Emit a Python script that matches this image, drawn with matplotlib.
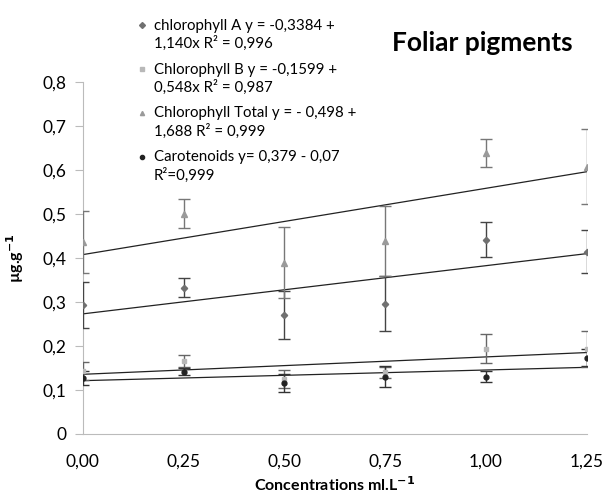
import numpy as np
import matplotlib.pyplot as plt
from matplotlib.lines import Line2D
from matplotlib.legend_handler import HandlerLine2D

plt.rcParams["font.family"] = ["Lato", "DejaVu Sans"]

conc = [0.00, 0.25, 0.50, 0.75, 1.00, 1.25]

chl_a = [0.293, 0.332, 0.270, 0.296, 0.441, 0.414]
chl_a_err = [0.053, 0.021, 0.054, 0.063, 0.040, 0.048]

chl_b = [0.143, 0.166, 0.125, 0.140, 0.193, 0.193]
chl_b_err = [0.021, 0.014, 0.020, 0.012, 0.033, 0.040]

chl_total = [0.436, 0.500, 0.389, 0.438, 0.638, 0.607]
chl_total_err = [0.071, 0.033, 0.080, 0.080, 0.031, 0.086]

carot = [0.127, 0.141, 0.115, 0.130, 0.130, 0.173]
carot_err = [0.015, 0.008, 0.020, 0.024, 0.013, 0.019]

labels = [
    "chlorophyll A y = -0,3384 +\n1,140x R\u00b2 = 0,996",
    "Chlorophyll B y = -0,1599 +\n0,548x R\u00b2 = 0,987",
    "Chlorophyll Total y = - 0,498 +\n1,688 R\u00b2 = 0,999",
    "Carotenoids y= 0,379 - 0,07\nR\u00b2=0,999",
]

series = [
    (chl_a, chl_a_err, "D", "#707070", "#444444", 3.2),
    (chl_b, chl_b_err, "s", "#b8b8b8", "#666666", 3.5),
    (chl_total, chl_total_err, "^", "#9a9a9a", "#777777", 4.5),
    (carot, carot_err, "o", "#222222", "#333333", 3.5),
]


class HandlerFirstLine(HandlerLine2D):
    # put the legend marker level with the first line of a two-line label
    def create_artists(self, legend, orig_handle, xdescent, ydescent,
                       width, height, fontsize, trans):
        arts = super().create_artists(legend, orig_handle, xdescent, ydescent,
                                      width, height, fontsize, trans)
        for a in arts:
            a.set_ydata(np.asarray(a.get_ydata()) + 0.7 * fontsize)
        return arts


fig = plt.figure(figsize=(6.05, 5.01), dpi=100)
ax = fig.add_axes([0.137, 0.134, 0.833, 0.703])

x = np.array(conc)
handles = []
for vals, errs, mk, col, ecol, ms in series:
    ax.errorbar(conc, vals, yerr=errs, fmt=mk, color=col, ecolor=ecol,
                markersize=ms, capsize=4, elinewidth=1, capthick=1, zorder=3)
    # linear trendline
    k, b = np.polyfit(x, vals, 1)
    ax.plot(x, k * x + b, color="#222222", lw=0.9, zorder=2)
    handles.append(Line2D([], [], marker=mk, color=col, ls="none", markersize=3))

ax.set_xlim(0, 1.25)
ax.set_ylim(0, 0.8)
ax.set_xticks(conc)
ax.set_xticklabels([f"{v:.2f}".replace(".", ",") for v in conc])
yt = np.arange(0, 0.81, 0.1)
ax.set_yticks(yt)
ax.set_yticklabels(["0"] + [f"{v:.1f}".replace(".", ",") for v in yt[1:]])
ax.tick_params(axis="x", length=0, pad=14, labelsize=12.5)
ax.tick_params(axis="y", length=6, color="#bbbbbb", pad=6, labelsize=12.5)

for s in ["top", "right"]:
    ax.spines[s].set_visible(False)
for s in ["left", "bottom"]:
    ax.spines[s].set_color("#bbbbbb")

ax.set_xlabel("Concentrations ml.L$^{\\mathbf{-1}}$", fontsize=11.5,
              fontweight="bold", labelpad=4)
ax.set_ylabel("\u00b5g.g$^{\\mathbf{-1}}$", fontsize=11.5, fontweight="bold",
              labelpad=12)

fig.text(0.797, 0.915, "Foliar pigments", fontsize=19, fontweight="bold",
         ha="center", va="center")

leg = fig.legend(handles, labels, loc="upper left", bbox_to_anchor=(0.205, 0.99),
                 frameon=False, fontsize=10.8, handlelength=0.6,
                 handletextpad=0.5, labelspacing=0.75,
                 handler_map={Line2D: HandlerFirstLine()})
for t in leg.get_texts():
    t.set_linespacing(1.3)

fig.savefig("out.png", dpi=100)
